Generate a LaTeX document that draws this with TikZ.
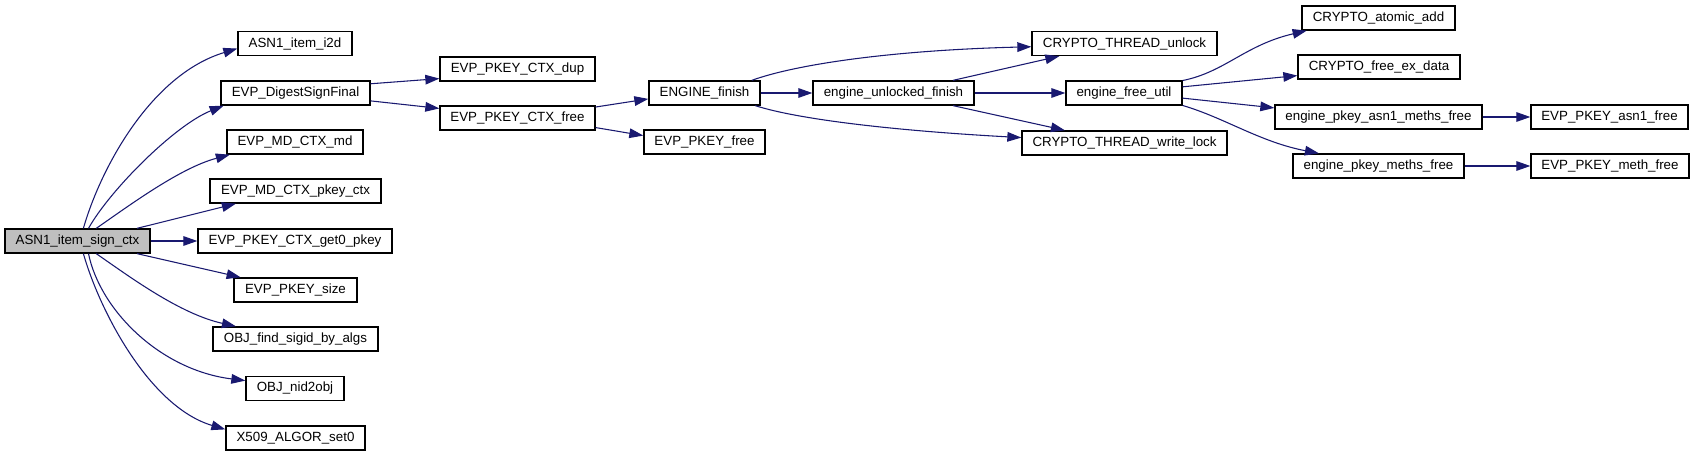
\documentclass[tikz,border=0pt]{standalone}
\usepackage{fontspec}
\setmainfont{Liberation Sans}
\usetikzlibrary{arrows.meta}
\definecolor{edgeblue}{HTML}{191970}
\definecolor{nodegray}{HTML}{BFBFBF}
\begin{document}
\begin{tikzpicture}[x=0.75pt,y=-0.75pt,
  fn/.style={draw=black,line width=1pt,fill=white,inner sep=0pt,minimum height=18pt,minimum width=#1*0.75pt,font=\fontsize{10}{12}\selectfont},
  call/.style={draw=edgeblue,line width=0.8pt,-{Triangle[length=10.5pt,width=7.2pt]}}]
\useasboundingbox (0,0) rectangle (1695,456);
\fill[white] (0,0) rectangle (1695,456);
% column 0
\node[fn=145,fill=nodegray] (sign) at (77.5,241) {ASN1\_item\_sign\_ctx};
% column 1
\node[fn=114] (i2d)   at (295,43.5)  {ASN1\_item\_i2d};
\node[fn=149] (dsf)   at (295.5,93)  {EVP\_DigestSignFinal};
\node[fn=136] (md)    at (295,142)   {EVP\_MD\_CTX\_md};
\node[fn=171] (pctx)  at (295.5,191) {EVP\_MD\_CTX\_pkey\_ctx};
\node[fn=194] (get0)  at (295,241)   {EVP\_PKEY\_CTX\_get0\_pkey};
\node[fn=123] (size)  at (295.5,290) {EVP\_PKEY\_size};
\node[fn=165] (sigid) at (295.5,339) {OBJ\_find\_sigid\_by\_algs};
\node[fn=98]  (nid)   at (295,388.5) {OBJ\_nid2obj};
\node[fn=139] (algor) at (295.5,438) {X509\_ALGOR\_set0};
% column 2
\node[fn=155] (dup)   at (517.5,69)  {EVP\_PKEY\_CTX\_dup};
\node[fn=155] (cfree) at (517.5,118) {EVP\_PKEY\_CTX\_free};
% column 3
\node[fn=111] (efin)  at (704.5,93)  {ENGINE\_finish};
\node[fn=121] (pfree) at (704.5,142) {EVP\_PKEY\_free};
% column 4
\node[fn=161] (euf)   at (893.5,93)  {engine\_unlocked\_finish};
% column 5
\node[fn=185] (unlock) at (1124.5,43.5) {CRYPTO\_THREAD\_unlock};
\node[fn=116] (efu)    at (1124,93)     {engine\_free\_util};
\node[fn=205] (wlock)  at (1124.5,143)  {CRYPTO\_THREAD\_write\_lock};
% column 6
\node[fn=153] (atomic) at (1378.5,18)  {CRYPTO\_atomic\_add};
\node[fn=162] (exdata) at (1379,67)    {CRYPTO\_free\_ex\_data};
\node[fn=207] (asn1mf) at (1378.5,117) {engine\_pkey\_asn1\_meths\_free};
\node[fn=171] (pmf)    at (1378.5,166) {engine\_pkey\_meths\_free};
% column 7
\node[fn=157] (asn1f) at (1609.5,117) {EVP\_PKEY\_asn1\_free};
\node[fn=158] (methf) at (1610,166)   {EVP\_PKEY\_meth\_free};
% edges from ASN1_item_sign_ctx
\draw[call] (sign.65) .. controls (100,170) and (150,75) .. (i2d.185);
\draw[call] (sign.49) .. controls (110,190) and (175,125) .. (dsf.190);
\draw[call] (sign.34) .. controls (130,205) and (180,168) .. (md.191);
\draw[call] (sign.12) -- (pctx.192);
\draw[call] (sign.east) -- (get0.west);
\draw[call] (sign.-12) -- (size.167);
\draw[call] (sign.-34) .. controls (130,277) and (180,314) .. (sigid.168);
\draw[call] (sign.-49) .. controls (100,310) and (160,370) .. (nid.171);
\draw[call] (sign.-65) .. controls (100,312) and (150,407) .. (algor.173);
% EVP_DigestSignFinal
\draw[call] (dsf.7) -- (dup.187);
\draw[call] (dsf.-6) -- (cfree.173);
% EVP_PKEY_CTX_free
\draw[call] (cfree.8) -- (efin.186);
\draw[call] (cfree.-7) -- (pfree.174);
% ENGINE_finish
\draw[call] (efin.east) -- (euf.west);
\draw[call] (efin.15) .. controls (800,63) and (900,50) .. (unlock.182);
\draw[call] (efin.-14) .. controls (800,120) and (900,131) .. (wlock.177);
% engine_unlocked_finish
\draw[call] (euf.12) -- (unlock.191);
\draw[call] (euf.east) -- (efu.west);
\draw[call] (euf.-12) -- (wlock.168);
% engine_free_util
\draw[call] (efu.12) .. controls (1225,72) and (1245,45) .. (atomic.190);
\draw[call] (efu.6) -- (exdata.186);
\draw[call] (efu.-5) -- (asn1mf.175);
\draw[call] (efu.-12) .. controls (1225,118) and (1260,142) .. (pmf.168);
% leaves
\draw[call] (asn1mf.east) -- (asn1f.west);
\draw[call] (pmf.east) -- (methf.west);
\end{tikzpicture}
\end{document}
